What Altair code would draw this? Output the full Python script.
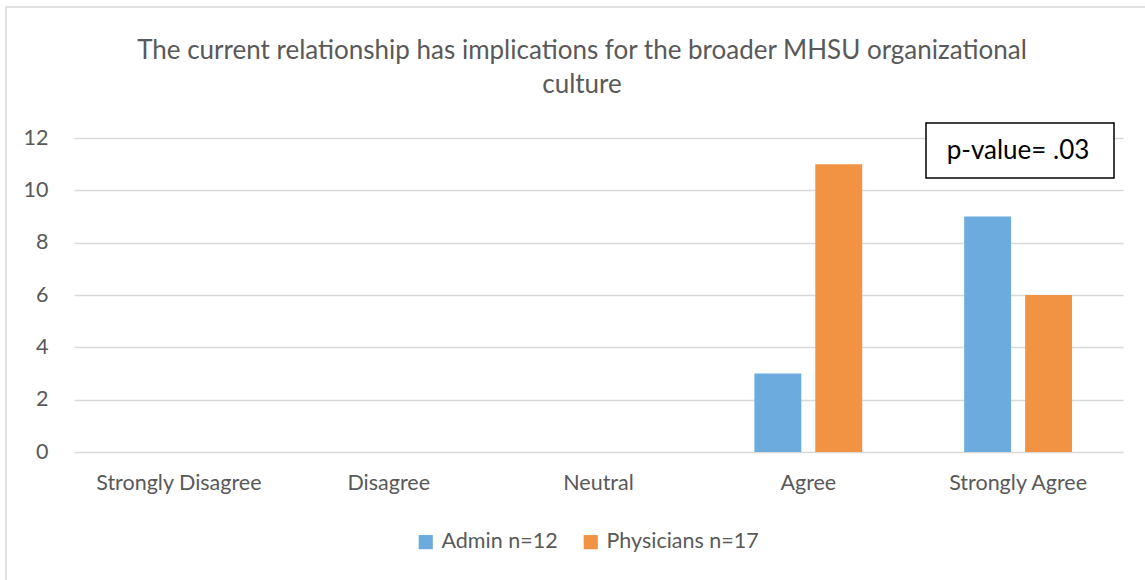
import altair as alt
import pandas as pd

categories = ["Strongly Disagree", "Disagree", "Neutral", "Agree", "Strongly Agree"]
series = ["Admin n=12", "Physicians n=17"]
admin = [0, 0, 0, 3, 9]
physicians = [0, 0, 0, 11, 6]
colors = ["#6BABDD", "#F19343"]
title_lines = ["The current relationship has implications for the broader MHSU organizational", "culture"]
annotation = "p-value= .03"

rows = []
for c, a, p in zip(categories, admin, physicians):
    rows.append({"cat": c, "series": series[0], "value": a})
    rows.append({"cat": c, "series": series[1], "value": p})
df = pd.DataFrame(rows)

FONT = "Lato"
GREY = "#595959"

W, H = 1049, 314

border = alt.Chart(pd.DataFrame({"k": [0]})).mark_rect(
    fill=None, stroke="#d9d9d9", strokeWidth=1.5
).encode(
    x=alt.value(-68), x2=alt.value(1200), y=alt.value(-131), y2=alt.value(700)
)

title1 = alt.Chart(pd.DataFrame({"t": [title_lines[0]]})).mark_text(
    font=FONT, fontSize=26, color=GREY, align="center", baseline="middle"
).encode(x=alt.value(508), y=alt.value(-87), text="t:N")

title2 = alt.Chart(pd.DataFrame({"t": [title_lines[1]]})).mark_text(
    font=FONT, fontSize=26, color=GREY, align="center", baseline="middle"
).encode(x=alt.value(508), y=alt.value(-53), text="t:N")

bars = alt.Chart(df).mark_bar().encode(
    x=alt.X("cat:N", sort=categories, title=None,
            scale=alt.Scale(paddingInner=0.486, paddingOuter=0.243),
            axis=alt.Axis(labelAngle=0, labelFont=FONT, labelFontSize=21.5, labelColor=GREY,
                          labelPadding=20, ticks=False, domain=False, grid=False)),
    xOffset=alt.XOffset("series:N", sort=series, scale=alt.Scale(paddingInner=0.23, paddingOuter=0)),
    y=alt.Y("value:Q", title=None,
            scale=alt.Scale(domain=[0, 12], nice=False),
            axis=alt.Axis(values=[0, 2, 4, 6, 8, 10, 12], labelFont=FONT, labelFontSize=21.5,
                          labelColor=GREY, labelPadding=26, ticks=False, domain=False,
                          gridColor="#d9d9d9", gridWidth=1.3)),
    color=alt.Color("series:N", sort=series, title=None,
                    scale=alt.Scale(domain=series, range=colors),
                    legend=alt.Legend(orient="none", legendX=341, legendY=393, direction="horizontal",
                                      symbolType="square", symbolSize=200, symbolStrokeWidth=0,
                                      labelFont=FONT, labelFontSize=21.5, labelColor=GREY,
                                      columnPadding=22, labelOffset=5)),
)

box = alt.Chart(pd.DataFrame({"t": [annotation]})).mark_rect(
    fill="white", stroke="black", strokeWidth=1.5
).encode(x=alt.value(852), x2=alt.value(1040), y=alt.value(-15), y2=alt.value(40))

box_text = alt.Chart(pd.DataFrame({"t": [annotation]})).mark_text(
    font=FONT, fontSize=26, color="black", align="center", baseline="middle"
).encode(x=alt.value(944), y=alt.value(13), text="t:N")

chart = alt.layer(border, title1, title2, bars, box, box_text).properties(
    width=W, height=H,
    padding={"left": 74, "top": 138, "right": 22, "bottom": 128},
    autosize=alt.AutoSizeParams(type="none"),
).configure_view(stroke=None)

chart.save("out.html", embed_options={"renderer": "svg", "actions": False})
